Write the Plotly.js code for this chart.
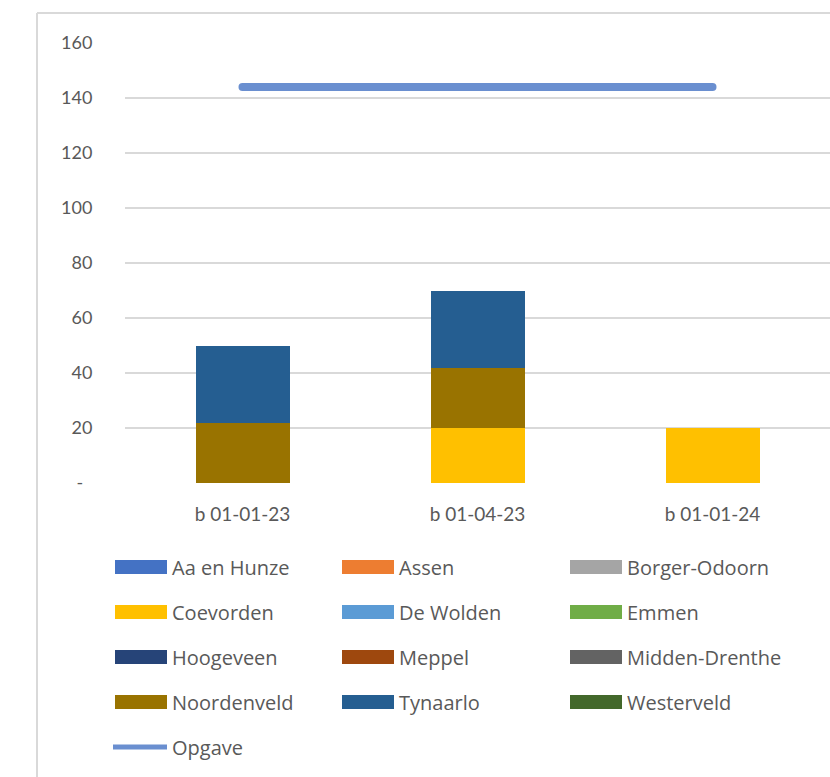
<!DOCTYPE html>
<html>
<head>
<meta charset="utf-8">
<script src="https://cdn.plot.ly/plotly-3.0.1.min.js"></script>
<style>html,body{margin:0;padding:0;background:#fff;}#chart{width:830px;height:777px;}
#chart .js-line{stroke-linecap:round;}</style>
</head>
<body>
<div id="chart"></div>
<script>
// ---- data ----
const categories = ['b 01-01-23', 'b 01-04-23', 'b 01-01-24'];
const seriesNames = ['Aa en Hunze', 'Assen', 'Borger-Odoorn', 'Coevorden', 'De Wolden', 'Emmen',
                     'Hoogeveen', 'Meppel', 'Midden-Drenthe', 'Noordenveld', 'Tynaarlo', 'Westerveld'];
const seriesColors = ['#4472C4', '#ED7D31', '#A5A5A5', '#FFC000', '#5B9BD5', '#70AD47',
                      '#264478', '#9E480E', '#636363', '#997300', '#255E91', '#43682B'];
const aaEnHunze     = [0, 0, 0];
const assen         = [0, 0, 0];
const borgerOdoorn  = [0, 0, 0];
const coevorden     = [0, 20, 20];
const deWolden      = [0, 0, 0];
const emmen         = [0, 0, 0];
const hoogeveen     = [0, 0, 0];
const meppel        = [0, 0, 0];
const middenDrenthe = [0, 0, 0];
const noordenveld   = [22, 22, 0];
const tynaarlo      = [28, 28, 0];
const westerveld    = [0, 0, 0];
const seriesValues = [aaEnHunze, assen, borgerOdoorn, coevorden, deWolden, emmen,
                      hoogeveen, meppel, middenDrenthe, noordenveld, tynaarlo, westerveld];
const opgaveName = 'Opgave';
const opgave = [144, 144, 144];
const opgaveColor = '#6A8FD0';
const yTickVals = [0, 20, 40, 60, 80, 100, 120, 140, 160];
const yTickText = ['-\u00a0\u00a0', '20', '40', '60', '80', '100', '120', '140', '160'];

// ---- layout helpers ----
const W = 830, H = 777;
const M = {l: 125, r: 0, t: 43, b: 294};
const PW = W - M.l - M.r, PH = H - M.t - M.b;
const px = x => (x - M.l) / PW;
const py = y => (H - M.b - y) / PH;
const textColor = '#595959';
const fontFam = 'Lato, "Liberation Sans", sans-serif';
const legendFont = {family: '"Open Sans", Lato, sans-serif', size: 20, color: textColor};

const traces = seriesNames.map((n, i) => ({
  type: 'bar', name: n, x: categories, y: seriesValues[i],
  marker: {color: seriesColors[i], line: {width: 0}},
  showlegend: false, hoverinfo: 'x+y+name'
}));
traces.push({
  type: 'scatter', mode: 'lines', name: opgaveName, x: categories, y: opgave,
  line: {color: opgaveColor, width: 8}, showlegend: false
});

// manual legend (Excel style wide swatches)
const shapes = [];
const annotations = [];
const colX = [115, 342, 570];
const rowY = [567, 612, 657, 702];
const swW = 52, swH = 14;
seriesNames.forEach((n, i) => {
  const c = i % 3, r = Math.floor(i / 3);
  const x0 = colX[c], yc = rowY[r];
  shapes.push({type: 'rect', xref: 'paper', yref: 'paper',
    x0: px(x0), x1: px(x0 + swW), y0: py(yc + swH / 2), y1: py(yc - swH / 2),
    fillcolor: seriesColors[i], line: {width: 0}});
  annotations.push({xref: 'paper', yref: 'paper', x: px(x0 + swW + 3), y: py(yc),
    xanchor: 'left', yanchor: 'middle', showarrow: false, text: n, font: legendFont});
});
// Opgave legend entry
shapes.push({type: 'line', xref: 'paper', yref: 'paper',
  x0: px(113), x1: px(167), y0: py(747), y1: py(747),
  line: {color: opgaveColor, width: 5}});
annotations.push({xref: 'paper', yref: 'paper', x: px(170), y: py(747),
  xanchor: 'left', yanchor: 'middle', showarrow: false, text: opgaveName, font: legendFont});
// chart border (top and left)
shapes.push({type: 'line', xref: 'paper', yref: 'paper', x0: px(37), x1: px(840), y0: py(13), y1: py(13),
  line: {color: '#d9d9d9', width: 2}});
shapes.push({type: 'line', xref: 'paper', yref: 'paper', x0: px(37), x1: px(37), y0: py(13), y1: py(790),
  line: {color: '#d9d9d9', width: 2}});

const layout = {
  width: W, height: H, margin: M,
  paper_bgcolor: '#fff', plot_bgcolor: '#fff',
  barmode: 'stack', bargap: 0.6,
  showlegend: false,
  font: {family: fontFam, color: textColor},
  xaxis: {type: 'category', range: [-0.5, 2.5], showgrid: false, zeroline: false, showline: false,
    ticks: 'outside', ticklen: 14, tickcolor: 'rgba(0,0,0,0)',
    tickfont: {family: fontFam, size: 19, color: textColor}},
  yaxis: {range: [0, 160], tickvals: yTickVals, ticktext: yTickText,
    showgrid: true, gridcolor: '#d9d9d9', gridwidth: 2, zeroline: false, showline: false,
    ticks: 'outside', ticklen: 28, tickcolor: 'rgba(0,0,0,0)',
    tickfont: {family: fontFam, size: 18, color: textColor}},
  shapes: shapes, annotations: annotations
};

Plotly.newPlot('chart', traces, layout, {displayModeBar: false, staticPlot: true});
</script>
</body>
</html>
